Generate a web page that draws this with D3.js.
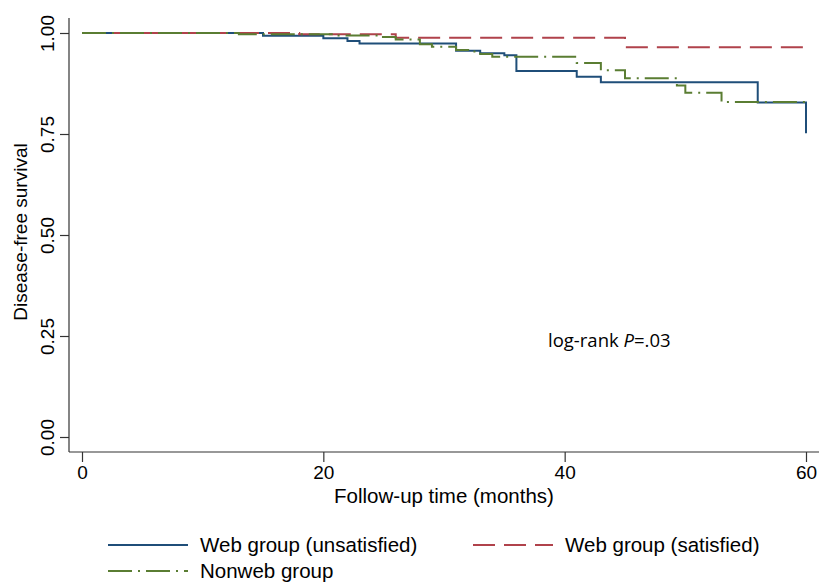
<!DOCTYPE html>
<html>
<head>
<meta charset="utf-8">
<script src="https://cdn.jsdelivr.net/npm/d3@7"></script>
<style>
  body { margin: 0; background: #fff; }
  svg { display: block; }
  text { font-family: "Liberation Sans", Arial, sans-serif; fill: #000; }
</style>
</head>
<body>
<svg id="chart"></svg>
<script>
// Kaplan-Meier step curves (months, survival)
var unsatTime = [0, 15, 20, 22, 23, 31, 33, 35, 36, 41, 43, 56, 60];
var unsatSurv = [1, 0.993, 0.987, 0.980, 0.974, 0.956, 0.950, 0.945, 0.906, 0.892, 0.878, 0.828, 0.752];

var satTime = [0, 18, 26, 45, 60];
var satSurv = [1, 0.997, 0.988, 0.965, 0.965];

var nonwebTime = [0, 13, 21, 24.5, 26, 28, 29, 31, 32, 33, 34, 41, 43, 45, 49.3, 50, 53, 60];
var nonwebSurv = [1, 0.997, 0.994, 0.990, 0.984, 0.972, 0.966, 0.958, 0.954, 0.948, 0.941, 0.926, 0.908, 0.888, 0.870, 0.852, 0.829, 0.829];

var xTicks = [0, 20, 40, 60];
var yTicks = [0, 0.25, 0.5, 0.75, 1];
var groupNames = ["Web group (unsatisfied)", "Web group (satisfied)", "Nonweb group"];

var svgWidth = 819, svgHeight = 583;
var axisX = 69, axisY = 452;

var svg = d3.select("#chart")
    .attr("width", svgWidth)
    .attr("height", svgHeight);

var xScale = d3.scaleLinear()
    .domain([0, 60])
    .range([82, 806]);

var yScale = d3.scaleLinear()
    .domain([0, 1])
    .range([437, 33]);

function zipUp(ts, ss) {
    return ts.map(function(t, i) { return {t: t, s: ss[i]}; });
}

var series = [
    {name: groupNames[0], data: zipUp(unsatTime, unsatSurv), color: "#1f4e79", dash: null},
    {name: groupNames[1], data: zipUp(satTime, satSurv), color: "#b0424b", dash: "22,9"},
    {name: groupNames[2], data: zipUp(nonwebTime, nonwebSurv), color: "#5a7d32", dash: "24,6,2,6"}
];

// y axis
var yAxis = svg.append("g")
    .attr("transform", "translate(" + axisX + ",0)")
    .call(d3.axisLeft(yScale).tickValues(yTicks).tickSize(9).tickFormat(d3.format(".2f")));
yAxis.select(".domain").remove();
yAxis.selectAll("line").attr("stroke", "#333").attr("stroke-width", 1.2);
yAxis.selectAll("text")
    .attr("transform", "rotate(-90)")
    .attr("x", 0)
    .attr("y", -15)
    .attr("dy", 0)
    .attr("text-anchor", "middle")
    .style("font-size", "19px")
    .style("font-family", "Liberation Sans, Arial, sans-serif")
    .attr("fill", "#000");
yAxis.append("line")
    .attr("x1", 0).attr("x2", 0)
    .attr("y1", 18).attr("y2", axisY)
    .attr("stroke", "#333").attr("stroke-width", 1.2);

// x axis
var xAxis = svg.append("g")
    .attr("transform", "translate(0," + axisY + ")")
    .call(d3.axisBottom(xScale).tickValues(xTicks).tickSize(10).tickFormat(d3.format("d")));
xAxis.select(".domain").remove();
xAxis.selectAll("line").attr("stroke", "#333").attr("stroke-width", 1.2);
xAxis.selectAll("text")
    .attr("y", 14)
    .attr("dy", "0.71em")
    .style("font-size", "19px")
    .style("font-family", "Liberation Sans, Arial, sans-serif")
    .attr("fill", "#000");
xAxis.append("line")
    .attr("x1", axisX).attr("x2", svgWidth)
    .attr("y1", 0).attr("y2", 0)
    .attr("stroke", "#333").attr("stroke-width", 1.2);

// axis titles
svg.append("text")
    .attr("x", 444)
    .attr("y", 503)
    .attr("text-anchor", "middle")
    .style("font-size", "20.5px")
    .text("Follow-up time (months)");

svg.append("text")
    .attr("transform", "translate(27,232) rotate(-90)")
    .attr("text-anchor", "middle")
    .style("font-size", "19px")
    .text("Disease-free survival");

// curves
var line = d3.line()
    .x(function(d) { return xScale(d.t); })
    .y(function(d) { return yScale(d.s); })
    .curve(d3.curveStepAfter);

svg.selectAll(".km")
    .data(series)
    .enter()
    .append("path")
    .attr("class", "km")
    .attr("d", function(d) { return line(d.data); })
    .attr("fill", "none")
    .attr("stroke", function(d) { return d.color; })
    .attr("stroke-width", 2)
    .attr("stroke-dasharray", function(d) { return d.dash; });

// annotation
var note = svg.append("text")
    .attr("x", 548)
    .attr("y", 347)
    .style("font-family", "Open Sans, sans-serif")
    .style("font-size", "18.5px");
note.append("tspan").text("log-rank ");
note.append("tspan").style("font-style", "italic").text("P");
note.append("tspan").text("=.03");

// legend
var legendPos = [[108, 545], [473, 545], [108, 571]];
var legend = svg.selectAll(".legend")
    .data(series)
    .enter()
    .append("g")
    .attr("class", "legend")
    .attr("transform", function(d, i) {
        return "translate(" + legendPos[i] + ")";
    });

legend.append("line")
    .attr("x1", 0).attr("x2", 80)
    .attr("y1", 0).attr("y2", 0)
    .attr("stroke", function(d) { return d.color; })
    .attr("stroke-width", 2)
    .attr("stroke-dasharray", function(d) { return d.dash; });

legend.append("text")
    .attr("x", 92)
    .attr("dy", "0.35em")
    .style("font-size", "20.5px")
    .text(function(d) { return d.name; });
</script>
</body>
</html>
